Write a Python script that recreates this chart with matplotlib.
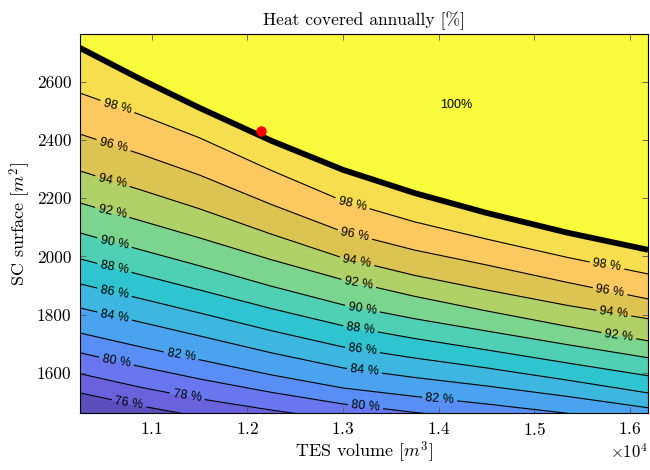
import numpy as np
import matplotlib
matplotlib.use('Agg')
import matplotlib.pyplot as plt
from matplotlib.ticker import ScalarFormatter

plt.rcParams['font.family'] = 'serif'
plt.rcParams['font.serif'] = ['cmr10', 'DejaVu Serif']
plt.rcParams['mathtext.fontset'] = 'cm'
plt.rcParams['axes.unicode_minus'] = False

# TES volume columns [m3] where the contour lines were read
tes_cols = [10250, 10875, 11500, 12250, 13000, 13750, 14500, 15345, 16190]

# SC surface [m2] of each coverage contour at the columns above
sc_72 = [1387, 1352, 1318, 1289, 1263, 1241, 1219, 1204, 1188]
sc_74 = [1459, 1421, 1383, 1350, 1322, 1297, 1273, 1254, 1236]
sc_76 = [1531, 1487, 1449, 1411, 1380, 1351, 1328, 1302, 1284]
sc_78 = [1597, 1551, 1511, 1472, 1438, 1409, 1383, 1356, 1332]
sc_80 = [1669, 1622, 1579, 1533, 1493, 1464, 1438, 1409, 1380]
sc_82 = [1737, 1690, 1645, 1593, 1548, 1519, 1493, 1461, 1428]
sc_84 = [1823, 1775, 1727, 1669, 1617, 1584, 1555, 1519, 1480]
sc_86 = [1906, 1856, 1806, 1745, 1689, 1651, 1617, 1575, 1531]
sc_88 = [1992, 1938, 1885, 1821, 1762, 1718, 1679, 1634, 1590]
sc_90 = [2081, 2024, 1968, 1898, 1834, 1786, 1744, 1697, 1652]
sc_92 = [2184, 2124, 2064, 1989, 1920, 1863, 1813, 1760, 1710]
sc_94 = [2294, 2230, 2164, 2077, 1995, 1935, 1885, 1832, 1786]
sc_96 = [2421, 2353, 2280, 2179, 2085, 2022, 1971, 1911, 1854]
sc_98 = [2562, 2488, 2408, 2296, 2191, 2119, 2060, 1997, 1940]
sc_100 = [2717, 2611, 2511, 2398, 2298, 2218, 2150, 2082, 2023]
sc_top = [3000, 3000, 3000, 3000, 3000, 3000, 3000, 3000, 3000]

coverage = [72, 74, 76, 78, 80, 82, 84, 86, 88, 90, 92, 94, 96, 98, 100, 101]

chosen_tes = 12147
chosen_sc = 2432

band_colors = ['#5a4cb5', '#5c4fbd', '#6a61dc', '#6877f0', '#5a8ef7', '#4aa3ee',
               '#3db6e0', '#2fc5d0', '#4fcfb3', '#7bd58f', '#b0d168', '#dcc453',
               '#fcc960', '#f6de4f', '#f8fa3c']

sc_rows = np.array([sc_72, sc_74, sc_76, sc_78, sc_80, sc_82, sc_84, sc_86, sc_88,
                    sc_90, sc_92, sc_94, sc_96, sc_98, sc_100, sc_top], dtype=float)
X = np.tile(np.array(tes_cols, dtype=float), (len(coverage), 1))
Y = sc_rows
Z = np.repeat(np.array(coverage, dtype=float)[:, None], len(tes_cols), axis=1)

fig = plt.figure(figsize=(6.5, 4.7), dpi=100)
ax = fig.add_axes([0.123, 0.1213, 0.874, 0.8064])

fill_levels = list(range(72, 104, 2))
ax.contourf(X, Y, Z, levels=fill_levels, colors=band_colors)
cs = ax.contour(X, Y, Z, levels=list(range(74, 100, 2)), colors='k', linewidths=0.8)
ax.contour(X, Y, Z, levels=[100], colors='k', linewidths=4.2)

label_pos = [(10629, 2493), (10587, 2356), (10587, 2253), (10587, 2150),
             (10608, 2040), (10608, 1954), (10608, 1868), (10608, 1782),
             (10629, 1634), (10765, 1497), (11309, 1662), (11372, 1524),
             (13100, 2184), (13121, 2067), (13152, 1995), (13173, 1930),
             (13204, 1823), (13183, 1748), (13204, 1676), (13225, 1610),
             (13236, 1483), (14011, 1507),
             (15759, 1964), (15791, 1878), (15832, 1803), (15885, 1734)]
lbls = ax.clabel(cs, fmt='%d %%', fontsize=9, inline=True, inline_spacing=4,
                 manual=label_pos)
for t in lbls:
    t.set_family('Liberation Sans')

ax.text(14189, 2521, '100%', ha='center', va='center', fontsize=9,
        family='Liberation Sans')

ax.plot(chosen_tes, chosen_sc, 'o', color='red', ms=6.5)

ax.set_xlim(10250, 16190)
ax.set_ylim(1462, 2765)
ax.set_xticks([11000, 12000, 13000, 14000, 15000, 16000])
ax.set_yticks([1600, 1800, 2000, 2200, 2400, 2600])
fmt = ScalarFormatter(useMathText=True)
fmt.set_powerlimits((0, 0))
ax.xaxis.set_major_formatter(fmt)
ax.tick_params(direction='in', top=True, right=True, length=4, width=0.6,
               color='#555555', labelsize=12.5, pad=6)
ax.xaxis.get_offset_text().set_fontsize(12)
for s in ax.spines.values():
    s.set_linewidth(0.8)

ax.set_title('Heat covered annually [%]', fontsize=12.6, pad=6)
ax.set_xlabel('TES volume [$m^3$]', fontsize=13, labelpad=1)
ax.set_ylabel('SC surface [$m^2$]', fontsize=13, labelpad=3)

fig.savefig('out.png', dpi=100)
